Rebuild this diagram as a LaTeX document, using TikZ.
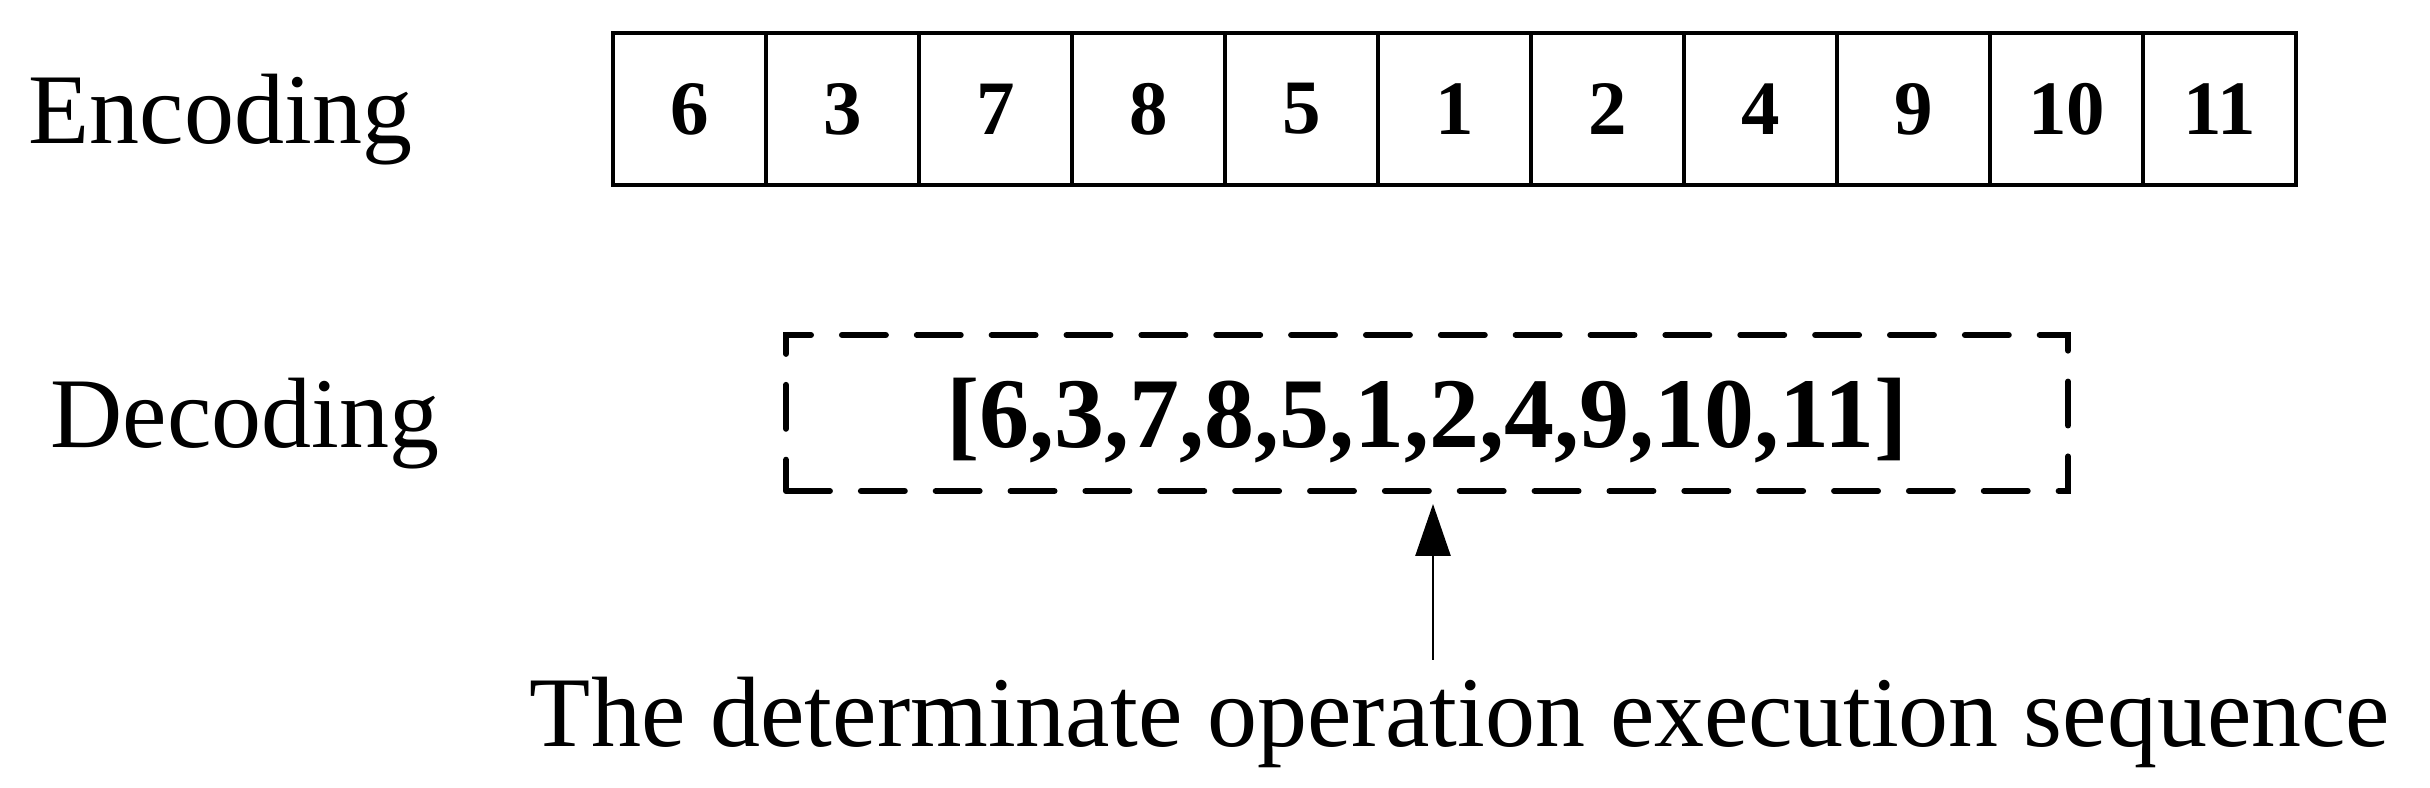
\documentclass[tikz,border=0pt]{standalone}
\usepackage{fontspec}
\setmainfont{Liberation Serif}
\usetikzlibrary{arrows.meta}
\tikzset{
  lbl/.style={inner sep=0pt, anchor=base, font=\fontsize{28.45}{34}\selectfont},
  cell/.style={draw, line width=1.15pt, outer sep=0pt, inner sep=0pt,
    minimum width=1.53cm, minimum height=1.52cm,
    font=\fontsize{21.9}{26}\selectfont\bfseries},
  seqbox/.style={draw, dashed, line width=1.7pt, line cap=round,
    dash pattern=on 12.5pt off 8.8pt, outer sep=0pt, inner sep=0pt,
    minimum width=12.82cm, minimum height=1.56cm,
    text height=0.7cm, text depth=0cm,
    font=\fontsize{28.45}{34}\selectfont\bfseries}
}
\begin{document}
\begin{tikzpicture}
      \useasboundingbox (0,0) rectangle (24.30,7.88);
      \draw
        (2.205,6.44) node[lbl] (enc){Encoding}
        (2.45,3.40) node[lbl] (dec){Decoding}
        (14.60,0.41) node[lbl, inner sep=0.2cm] (txt){The determinate operation execution sequence};
      \draw
        (6.895,6.79) node[cell] (c1){6}
        (8.425,6.79) node[cell] (c2){3}
        (9.955,6.79) node[cell] (c3){7}
        (11.485,6.79) node[cell] (c4){8}
        (13.015,6.79) node[cell] (c5){5}
        (14.545,6.79) node[cell] (c6){1}
        (16.075,6.79) node[cell] (c7){2}
        (17.605,6.79) node[cell] (c8){4}
        (19.135,6.79) node[cell] (c9){9}
        (20.665,6.79) node[cell] (c10){10}
        (22.195,6.79) node[cell] (c11){11};
      \draw
        (14.27,3.75) node[seqbox] (seq){[6,3,7,8,5,1,2,4,9,10,11]};
      \coordinate (foot) at (14.33,1.28);
      \begin{scope}[-{Triangle[length=0.52cm,width=0.35cm]}, line width=0.77pt]
        \draw (foot) to ([shift={(0,-0.13)}] foot |- seq.south);
      \end{scope}
    \end{tikzpicture}
\end{document}
